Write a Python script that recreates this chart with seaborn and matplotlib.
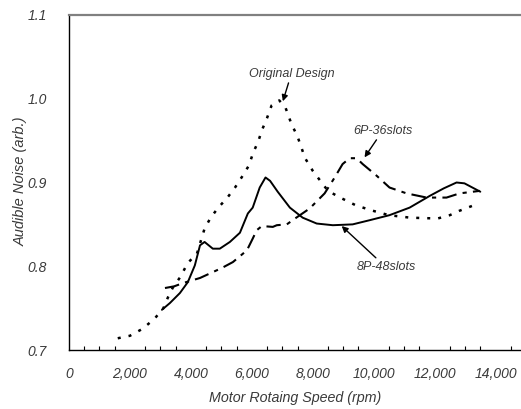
import matplotlib
matplotlib.use("Agg")
import matplotlib.pyplot as plt
import seaborn as sns
import pandas as pd
from matplotlib.ticker import MultipleLocator, FuncFormatter

# ---- data ----
orig_rpm = [1600, 2000, 2400, 2800, 3100, 3250, 3400, 3650, 3900, 4200, 4450, 4650,
            4900, 5200, 5450, 5700, 5900, 6050, 6200, 6350, 6500, 6650, 6900, 7100,
            7300, 7500, 7750, 8000, 8250, 8500, 8900, 9400, 9900, 10500, 11200,
            12100, 12500, 12800, 13300]
orig_val = [0.714, 0.717, 0.725, 0.737, 0.750, 0.763, 0.774, 0.787, 0.804, 0.815,
            0.845, 0.858, 0.870, 0.882, 0.894, 0.908, 0.920, 0.936, 0.948, 0.964,
            0.977, 0.992, 0.998, 0.990, 0.970, 0.955, 0.929, 0.914, 0.902, 0.890,
            0.882, 0.873, 0.867, 0.861, 0.858, 0.857, 0.861, 0.866, 0.873]

p8_rpm = [3050, 3310, 3640, 3900, 4130, 4300, 4450, 4720, 4950, 5280, 5610, 5870,
          6030, 6260, 6450, 6600, 6850, 7250, 7670, 8130, 8660, 9310, 9870, 10520,
          11180, 11840, 12300, 12720, 12980, 13500]
p8_val = [0.748, 0.756, 0.768, 0.781, 0.801, 0.825, 0.829, 0.821, 0.821, 0.829,
          0.840, 0.863, 0.870, 0.894, 0.906, 0.902, 0.889, 0.870, 0.858, 0.851,
          0.849, 0.850, 0.855, 0.861, 0.870, 0.884, 0.893, 0.900, 0.899, 0.889]

p6_rpm = [3150, 3450, 3750, 4300, 4720, 5020, 5380, 5840, 6030, 6160, 6330, 6690,
          6820, 7150, 7340, 7900, 8390, 8720, 8980, 9210, 9440, 9640, 10100, 10520,
          11080, 11740, 12390, 12820, 13480]
p6_val = [0.774, 0.776, 0.780, 0.786, 0.793, 0.798, 0.805, 0.819, 0.833, 0.843,
          0.848, 0.847, 0.849, 0.850, 0.855, 0.869, 0.887, 0.906, 0.922, 0.929,
          0.929, 0.922, 0.908, 0.894, 0.887, 0.882, 0.882, 0.887, 0.890]

x_ticks = [0, 2000, 4000, 6000, 8000, 10000, 12000, 14000]
y_ticks = [0.7, 0.8, 0.9, 1.0, 1.1]

df = pd.concat([
    pd.DataFrame({"rpm": orig_rpm, "noise": orig_val, "design": "Original Design"}),
    pd.DataFrame({"rpm": p8_rpm, "noise": p8_val, "design": "8P-48slots"}),
    pd.DataFrame({"rpm": p6_rpm, "noise": p6_val, "design": "6P-36slots"}),
])

sns.set_style("white")
plt.rcParams["font.family"] = ["Liberation Sans", "DejaVu Sans"]

fig = plt.figure(figsize=(5.21, 4.09), dpi=100)
ax = fig.add_axes([69 / 521, 59 / 409, 457 / 521, 335 / 409])

styles = {
    "Original Design": dict(linestyle=(0, (1.2, 3.2)), linewidth=1.8),
    "8P-48slots": dict(linestyle="-", linewidth=1.4),
    "6P-36slots": dict(linestyle=(0, (7, 3, 2, 3)), linewidth=1.5),
}
for name, sub in df.groupby("design", sort=False):
    sns.lineplot(data=sub, x="rpm", y="noise", ax=ax, color="black",
                 estimator=None, sort=False, legend=False, **styles[name])

ax.set_xlim(0, 15000)
ax.set_ylim(0.7, 1.1)
ax.set_xticks(x_ticks)
ax.set_yticks(y_ticks)
ax.xaxis.set_minor_locator(MultipleLocator(500))
ax.xaxis.set_major_formatter(FuncFormatter(lambda v, p: f"{int(v):,}"))
ax.yaxis.set_major_formatter(FuncFormatter(lambda v, p: f"{v:.1f}"))

tick_col = "#3a3a3a"
ax.tick_params(axis="both", which="major", direction="in", length=5, width=0.9,
               color="black", labelsize=10, labelcolor=tick_col, pad=10)
ax.tick_params(axis="x", which="minor", direction="in", length=3, width=0.8,
               color="black", bottom=True)
ax.tick_params(axis="x", which="major", pad=12)
ax.tick_params(axis="y", which="major", pad=16)
for lab in ax.get_xticklabels() + ax.get_yticklabels():
    lab.set_fontstyle("italic")

for side in ["left", "bottom"]:
    ax.spines[side].set_color("black")
    ax.spines[side].set_linewidth(1.0)
ax.spines["top"].set_color("#808080")
ax.spines["top"].set_linewidth(1.6)
ax.spines["right"].set_visible(False)

ax.set_xlabel("Motor Rotaing Speed (rpm)", fontsize=10.3, fontstyle="italic",
              color=tick_col)
ax.set_ylabel("Audible Noise (arb.)", fontsize=10.5, fontstyle="italic",
              color=tick_col)
ax.xaxis.set_label_coords(0.4945, -41 / 335)
ax.yaxis.set_label_coords(-41 / 457, 0.505)

arrow = dict(arrowstyle="-|>", color="black", lw=1.0, mutation_scale=9,
             shrinkA=0, shrinkB=0)
ax.annotate("Original Design", xy=(7020, 0.997), xytext=(7300, 1.030),
            textcoords="data", ha="center", va="center", fontsize=9,
            fontstyle="italic", color=tick_col, arrowprops=arrow)
ax.annotate("6P-36slots", xy=(9700, 0.930), xytext=(10300, 0.962),
            ha="center", va="center", fontsize=9, fontstyle="italic",
            color=tick_col, arrowprops=arrow)
ax.annotate("8P-48slots", xy=(8950, 0.848), xytext=(10400, 0.799),
            ha="center", va="center", fontsize=9, fontstyle="italic",
            color=tick_col, arrowprops=arrow)

fig.savefig("out.png", dpi=100)
